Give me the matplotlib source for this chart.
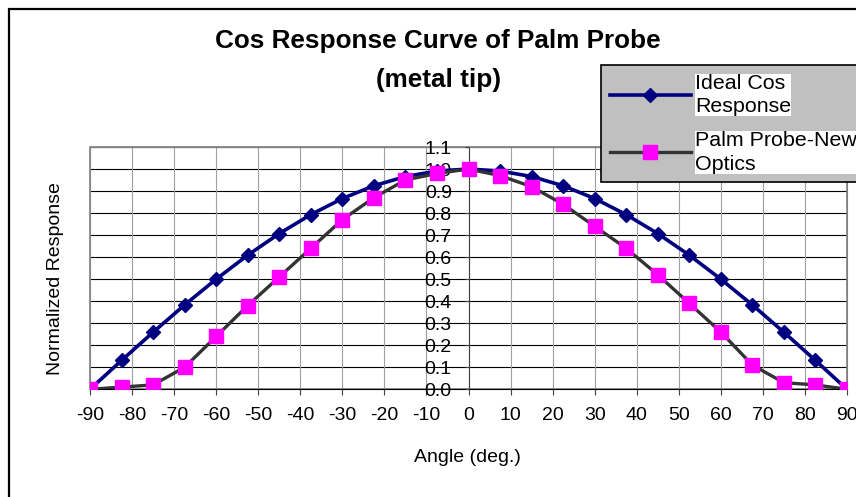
import matplotlib
matplotlib.use('Agg')
import matplotlib.pyplot as plt
from matplotlib.patches import Rectangle

plt.rcParams['font.family'] = ['Liberation Sans', 'DejaVu Sans']

# data
angles = [-90, -82.5, -75, -67.5, -60, -52.5, -45, -37.5, -30, -22.5, -15, -7.5, 0,
          7.5, 15, 22.5, 30, 37.5, 45, 52.5, 60, 67.5, 75, 82.5, 90]
ideal_cos = [0.0, 0.131, 0.259, 0.383, 0.5, 0.609, 0.707, 0.793, 0.866, 0.924, 0.966, 0.991, 1.0,
             0.991, 0.966, 0.924, 0.866, 0.793, 0.707, 0.609, 0.5, 0.383, 0.259, 0.131, 0.0]
palm_probe = [0.0, 0.01, 0.02, 0.10, 0.24, 0.38, 0.51, 0.64, 0.77, 0.87, 0.95, 0.98, 1.0,
              0.97, 0.92, 0.84, 0.74, 0.64, 0.52, 0.39, 0.26, 0.11, 0.03, 0.02, 0.0]
x_ticks = list(range(-90, 91, 10))
y_ticks = [0.0, 0.1, 0.2, 0.3, 0.4, 0.5, 0.6, 0.7, 0.8, 0.9, 1.0, 1.1]

W, H = 856, 497
fig = plt.figure(figsize=(W / 100, H / 100), dpi=100)

# outer chart frame
fig.patches.append(Rectangle((9 / W, -0.05), 1.2, 1 - 9 / H + 0.05, transform=fig.transFigure,
                             fill=False, edgecolor='black', linewidth=1.6))

ax = fig.add_axes([90 / W, 1 - 389.3 / H, (847 - 90) / W, (389.3 - 147) / H])
ax.set_xlim(-90, 90)
ax.set_ylim(0, 1.1)

# gridlines
for y in y_ticks[1:]:
    ax.axhline(y, color='black', linewidth=0.8, zorder=1)
for x in x_ticks:
    ax.axvline(x, color='#a0a0a0', linewidth=0.8, zorder=1)

ax.plot(angles, ideal_cos, color='#000080', linewidth=2.6, marker='D', markersize=7.2,
        zorder=3, label='Ideal Cos\nResponse')
ax.plot(angles, palm_probe, color='#333333', linewidth=2.4, marker='s', markersize=9.5,
        markerfacecolor='#ff00ff', markeredgecolor='#ff00ff', zorder=3,
        label='Palm Probe-New\nOptics')

# axes: y axis at x = 0, gray plot area border
for s in ['top', 'right']:
    ax.spines[s].set_color('#808080')
ax.spines['left'].set_position(('data', 0))
ax.spines['left'].set_color('#404040')
ax.spines['bottom'].set_color('black')
ax.add_patch(Rectangle((0, 0), 1, 1, transform=ax.transAxes, fill=False,
                       edgecolor='#808080', linewidth=1.2, zorder=1, clip_on=False))

ax.set_xticks(x_ticks)
ax.set_xticklabels([str(v) for v in x_ticks])
ax.set_yticks(y_ticks)
ax.set_yticklabels(['%.1f' % v for v in y_ticks])
ax.tick_params(axis='x', direction='out', length=4, width=0.8, pad=9, labelsize=14, color='#404040')
ax.tick_params(axis='y', direction='out', length=3, width=0.8, pad=9, labelsize=14, color='#404040')
ax.set_axisbelow(False)
for lab in ax.get_yticklabels() + ax.get_xticklabels():
    lab.set_zorder(5)

fig.text(438 / W, 1 - 48 / H, 'Cos Response Curve of Palm Probe', ha='center', va='baseline',
         fontsize=18.8, fontweight='bold')
fig.text(438 / W, 1 - 87 / H, '(metal tip)', ha='center', va='baseline',
         fontsize=18.8, fontweight='bold')
fig.text(56 / W, 1 - 279 / H, 'Normalized Response', rotation=90, ha='center', va='center',
         fontsize=14)
fig.text(467 / W, 1 - 458 / H, 'Angle (deg.)', ha='center', va='center', fontsize=14)

leg = fig.legend(loc='upper left', bbox_to_anchor=(601 / W, 1 - 65 / H), borderaxespad=0,
                 fontsize=15.4, handlelength=3.8, handletextpad=0.2, borderpad=0.4,
                 labelspacing=0.7, fancybox=False, framealpha=1, facecolor='#c0c0c0',
                 edgecolor='black')
leg.get_frame().set_linewidth(1.2)
for t in leg.get_texts():
    t.set_linespacing(1.3)
    t.set_bbox(dict(facecolor='white', edgecolor='none', pad=0))

fig.savefig('out.png', dpi=100)
